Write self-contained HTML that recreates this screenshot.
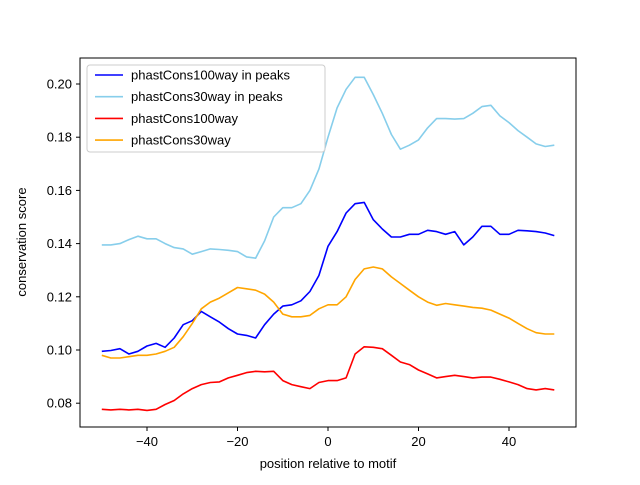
<!DOCTYPE html>
<html><head><meta charset="utf-8"><style>body{margin:0;background:#fff}svg{font-family:"Liberation Sans","DejaVu Sans",sans-serif}</style></head>
<body>
<svg id="chart" width="640" height="480" viewBox="0 0 640 480" xmlns="http://www.w3.org/2000/svg">
<rect width="640" height="480" fill="#fff"/>
<g id="plot"></g>
<rect x="80" y="58" width="496" height="369" fill="none" stroke="#000" stroke-width="1"/>
<g id="axes"></g>
<text x="328" y="468" font-size="13" text-anchor="middle">position relative to motif</text>
<text transform="translate(26,242) rotate(-90)" font-size="13" text-anchor="middle">conservation score</text>
<g id="legend">
<rect x="87" y="65" width="238" height="87" rx="3" fill="#fff" fill-opacity="0.8" stroke="#ccc"/>
</g>
</svg>
<script>
const positions=[-50,-48,-46,-44,-42,-40,-38,-36,-34,-32,-30,-28,-26,-24,-22,-20,-18,-16,-14,-12,-10,-8,-6,-4,-2,0,2,4,6,8,10,12,14,16,18,20,22,24,26,28,30,32,34,36,38,40,42,44,46,48,50];
const cons100Peaks=[0.0995,0.0998,0.1005,0.0985,0.0995,0.1015,0.1025,0.1010,0.1045,0.1095,0.111,0.1145,0.1125,0.1105,0.108,0.106,0.1055,0.1045,0.1095,0.1135,0.1165,0.117,0.1185,0.122,0.128,0.139,0.1445,0.1515,0.155,0.1555,0.149,0.1455,0.1425,0.1425,0.1435,0.1435,0.145,0.1445,0.1435,0.1445,0.1395,0.1425,0.1465,0.1465,0.1435,0.1435,0.145,0.1448,0.1445,0.144,0.143];
const cons30Peaks=[0.1395,0.1395,0.140,0.1415,0.1428,0.1418,0.1418,0.140,0.1385,0.138,0.136,0.137,0.138,0.1378,0.1375,0.137,0.135,0.1345,0.141,0.150,0.1535,0.1535,0.155,0.160,0.168,0.180,0.191,0.198,0.2025,0.2025,0.196,0.189,0.181,0.1755,0.177,0.179,0.1835,0.187,0.187,0.1868,0.187,0.189,0.1915,0.192,0.188,0.1855,0.1825,0.180,0.1775,0.1765,0.177];
const cons100=[0.0777,0.0775,0.0777,0.0775,0.0777,0.0773,0.0777,0.0795,0.081,0.0835,0.0855,0.087,0.0878,0.088,0.0895,0.0905,0.0915,0.092,0.0918,0.092,0.0885,0.087,0.0862,0.0855,0.0878,0.0885,0.0885,0.0895,0.0985,0.1012,0.101,0.1005,0.098,0.0955,0.0945,0.0925,0.091,0.0895,0.09,0.0905,0.09,0.0895,0.0898,0.0898,0.089,0.088,0.087,0.0855,0.085,0.0855,0.085];
const cons30=[0.098,0.097,0.097,0.0975,0.098,0.098,0.0985,0.0995,0.101,0.105,0.110,0.1155,0.118,0.1195,0.1215,0.1235,0.123,0.1225,0.121,0.118,0.1135,0.1125,0.1125,0.113,0.1155,0.117,0.117,0.120,0.1265,0.1305,0.1312,0.1305,0.1275,0.125,0.1225,0.120,0.118,0.1168,0.1175,0.117,0.1165,0.116,0.1157,0.115,0.1135,0.112,0.110,0.108,0.1065,0.106,0.106];
const xTicks=[-40,-20,0,20,40];
const yTicks=[0.08,0.10,0.12,0.14,0.16,0.18,0.20];
const seriesNames=["phastCons100way in peaks","phastCons30way in peaks","phastCons100way","phastCons30way"];
const NS="http://www.w3.org/2000/svg";
function xs(v){return 328+(v/10)*45.25;}
function ys(v){return 84+(0.20-v)/0.02*53.2;}
const plot=document.getElementById('plot'),axes=document.getElementById('axes'),legend=document.getElementById('legend');
const series=[[cons100Peaks,'#0000ff','series-phastcons100way-in-peaks'],[cons30Peaks,'#87ceeb','series-phastcons30way-in-peaks'],[cons100,'#ff0000','series-phastcons100way'],[cons30,'#ffa500','series-phastcons30way']];
series.forEach(function(s,i){
  const p=document.createElementNS(NS,'polyline');
  p.setAttribute('points',s[0].map(function(v,j){return xs(positions[j]).toFixed(1)+','+ys(v).toFixed(1);}).join(' '));
  p.setAttribute('fill','none');p.setAttribute('stroke',s[1]);p.setAttribute('stroke-width','1.6');p.setAttribute('stroke-linejoin','round');
  
  
  plot.appendChild(p);
  const ly=75+i*21.7;
  const l=document.createElementNS(NS,'line');
  l.setAttribute('x1',95);l.setAttribute('x2',123);l.setAttribute('y1',ly);l.setAttribute('y2',ly);l.setAttribute('stroke',s[1]);l.setAttribute('stroke-width','1.6');
  
  
  legend.appendChild(l);
  const t=document.createElementNS(NS,'text');
  t.setAttribute('x',131);t.setAttribute('y',ly+4.5);t.setAttribute('font-size','13');t.textContent=seriesNames[i];
  
  
  legend.appendChild(t);
});
xTicks.forEach(function(v){
  const x=xs(v);
  const l=document.createElementNS(NS,'line');
  l.setAttribute('x1',x);l.setAttribute('x2',x);l.setAttribute('y1',427);l.setAttribute('y2',431);l.setAttribute('stroke','#000');
  
  
  axes.appendChild(l);
  const t=document.createElementNS(NS,'text');
  t.setAttribute('x',x);t.setAttribute('y',446);t.setAttribute('font-size','13');t.setAttribute('text-anchor','middle');
  t.textContent=(v<0?'\u2212'+(-v):String(v));
  
  
  axes.appendChild(t);
});
yTicks.forEach(function(v){
  const y=ys(v);
  const l=document.createElementNS(NS,'line');
  l.setAttribute('x1',76);l.setAttribute('x2',80);l.setAttribute('y1',y);l.setAttribute('y2',y);l.setAttribute('stroke','#000');
  
  
  axes.appendChild(l);
  const t=document.createElementNS(NS,'text');
  t.setAttribute('x',72);t.setAttribute('y',y+4.5);t.setAttribute('font-size','13');t.setAttribute('text-anchor','end');
  t.textContent=v.toFixed(2);
  
  
  axes.appendChild(t);
});
</script>
</body></html>
